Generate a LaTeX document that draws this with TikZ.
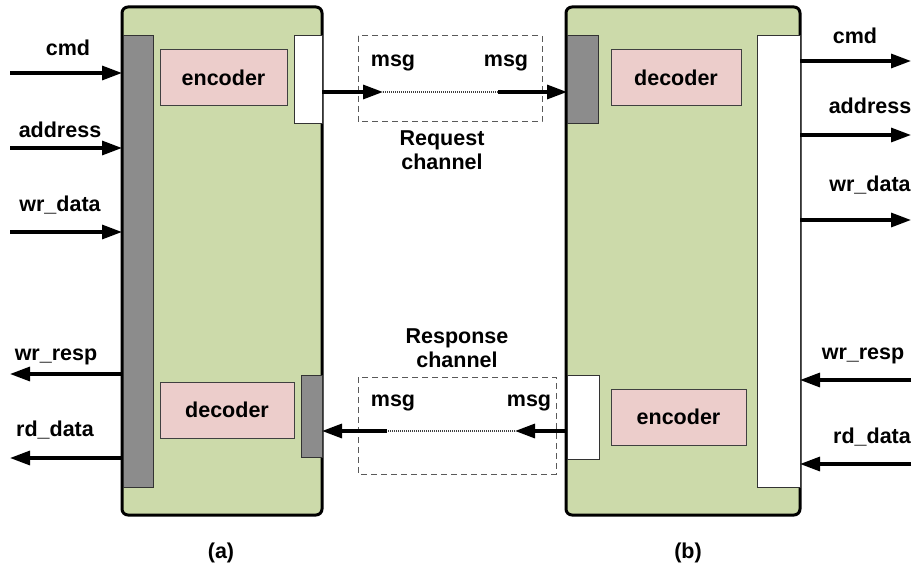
\documentclass[tikz,border=0pt]{standalone}
\usepackage{fontspec}
\setmainfont{Liberation Sans}
\usetikzlibrary{arrows.meta}
\definecolor{blockgreen}{HTML}{CCDAAA}
\definecolor{unitpink}{HTML}{ECCDCB}
\definecolor{portgray}{HTML}{8C8C8C}
\tikzset{
  x=1pt, y=-1pt,
  every node/.style={font=\fontsize{21.5}{24}\selectfont\bfseries, inner sep=0pt, outer sep=0pt},
  block/.style={draw=black, line width=3pt, fill=blockgreen, rounded corners=6pt, anchor=north west},
  unit/.style={draw=black!75, line width=1pt, fill=unitpink, anchor=north west},
  grayport/.style={draw=black!80, line width=1pt, fill=portgray, anchor=north west},
  whiteport/.style={draw=black!80, line width=1pt, fill=white, anchor=north west},
  chanbox/.style={draw=black!65, line width=1pt, dash pattern=on 6pt off 4pt},
  sig/.style={line width=3.2pt, -{Triangle[length=20pt,width=14pt]}},
  link/.style={line width=1.2pt, black!75, dash pattern=on 1pt off 1pt},
}
\begin{document}
\begin{tikzpicture}
\useasboundingbox (0,0) rectangle (912,575);

% ---- block (a) ----
\node[block, minimum width=200pt, minimum height=508pt] (A) at (122,7) {};
\node[grayport, minimum width=30pt, minimum height=451pt] (LG) at (123,36) {};
\node[unit, minimum width=127pt, minimum height=56pt] (LE) at (160,50) {};
\node at (LE.center) {encoder};
\node[whiteport, minimum width=28pt, minimum height=88pt] (LW) at (294,36) {};
\node[unit, minimum width=134pt, minimum height=56pt] (LD) at (160,382) {};
\node at (LD.center) {decoder};
\node[grayport, minimum width=21pt, minimum height=82pt] (LS) at (301,375) {};

% ---- block (b) ----
\node[block, minimum width=234pt, minimum height=508pt] (B) at (566,7) {};
\node[grayport, minimum width=31pt, minimum height=88pt] (RG) at (567,36) {};
\node[unit, minimum width=130pt, minimum height=56pt] (RD) at (611,50) {};
\node at (RD.center) {decoder};
\node[whiteport, minimum width=43pt, minimum height=451pt] (RW) at (757,36) {};
\node[unit, minimum width=135pt, minimum height=56pt] (RE) at (611,389) {};
\node at (RE.center) {encoder};
\node[whiteport, minimum width=32pt, minimum height=84pt] (RS) at (567,375) {};

% ---- channels ----
\draw[chanbox] (358,36) rectangle (542,122);
\draw[chanbox] (358,377) rectangle (556,474);

\node (m1) at (393,63) {msg};
\node (m2) at (506,63) {msg};
\node[align=center] (req) at (442,150) {Request\\channel};

\node[align=center] (resp) at (457,348) {Response\\channel};
\node (m3) at (393,403) {msg};
\node (m4) at (529,403) {msg};

\coordinate (rqA) at (383,92);
\coordinate (rqB) at (498,92);
\draw[sig] (LW.east |- rqA) -- (rqA);
\draw[link] (rqA) -- (rqB);
\draw[sig] (rqB) -- (rqB -| RG.west);

\coordinate (rsA) at (515,431);
\coordinate (rsB) at (387,431);
\draw[sig] (RS.west |- rsA) -- (rsA);
\draw[link] (rsA) -- (rsB);
\draw[sig] (rsB) -- (rsB -| LS.east);

% ---- left side signals ----
\coordinate (iCmd) at (10,73);
\coordinate (iAddr) at (10,148);
\coordinate (iWr) at (10,232);
\coordinate (oResp) at (10,374);
\coordinate (oRd) at (10,458);
\draw[sig] (iCmd) -- (iCmd -| A.west);
\draw[sig] (iAddr) -- (iAddr -| A.west);
\draw[sig] (iWr) -- (iWr -| A.west);
\draw[sig] (oResp -| A.west) -- (oResp);
\draw[sig] (oRd -| A.west) -- (oRd);
\node at (68,48) {cmd};
\node at (60,130) {address};
\node at (60,205) {wr\_data};
\node at (56,357) {wr\_resp};
\node at (55,430) {rd\_data};

% ---- right side signals ----
\coordinate (oCmd) at (911,61);
\coordinate (oAddr) at (911,135);
\coordinate (oWr) at (911,220);
\coordinate (iResp) at (911,380);
\coordinate (iRd) at (911,464);
\draw[sig] (oCmd -| RW.east) -- (oCmd);
\draw[sig] (oAddr -| RW.east) -- (oAddr);
\draw[sig] (oWr -| RW.east) -- (oWr);
\draw[sig] (iResp) -- (iResp -| RW.east);
\draw[sig] (iRd) -- (iRd -| RW.east);
\node at (855,36) {cmd};
\node at (870,106) {address};
\node at (870,185) {wr\_data};
\node at (863,356) {wr\_resp};
\node at (872,437) {rd\_data};

% ---- captions ----
\node at (221,553) {(a)};
\node at (688,553) {(b)};
\end{tikzpicture}
\end{document}
